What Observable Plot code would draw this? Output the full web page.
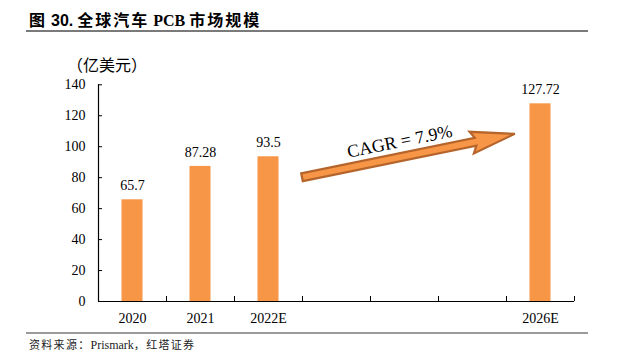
<!DOCTYPE html>
<html><head><meta charset="utf-8">
<script src="https://cdn.jsdelivr.net/npm/d3@7"></script>
<script src="https://cdn.jsdelivr.net/npm/@observablehq/plot@0.6"></script>
<style>
body{margin:0;background:#fff;width:618px;height:361px;overflow:hidden;}
#title{position:relative;height:34px;}
#title .txt{position:absolute;left:29px;top:10px;font-size:16px;font-weight:bold;line-height:18px;white-space:nowrap;color:#000}
#title .cjk{font-family:"Noto Sans CJK SC";letter-spacing:2px}
#title .num{font-family:"Liberation Sans"}
#title .ser{font-family:"Liberation Serif"}
#title .line{position:absolute;left:26px;width:562px;top:30px;height:2px;background:#7a7a7a}
#chart{height:298px}
#chart svg{display:block}
#cap{position:relative;height:29px}
#cap .line{position:absolute;left:26px;width:562px;top:0;height:2px;background:#9a9a9a}
#cap .txt{position:absolute;left:29px;top:5px;font-size:11px;line-height:14px;white-space:nowrap;color:#222}
#cap .cjk{font-family:"Noto Sans CJK SC";letter-spacing:1.3px}
#cap .ser{font-family:"Liberation Serif";font-size:12px}
</style>
</head>
<body>
<div id="title"><div class="txt"><span class="cjk">图</span> <span class="num">30.</span> <span class="cjk">全球汽车</span> <span class="ser">PCB</span> <span class="cjk">市场规模</span></div><div class="line"></div></div>
<div id="chart"></div>
<div id="cap"><div class="line"></div><div class="txt"><span class="cjk">资料来源：</span><span class="ser">Prismark</span><span class="cjk">，红塔证券</span></div></div>
<script>
// ---- data ----
const categories = ["2020", "2021", "2022E", "", "", "", "2026E"];
const values = [65.7, 87.28, 93.5, null, null, null, 127.72];
const valueLabels = ["65.7", "87.28", "93.5", "", "", "", "127.72"];
const yTicks = [0, 20, 40, 60, 80, 100, 120, 140];
const unitLabel = "（亿美元）";
const cagrLabel = "CAGR = 7.9%";
// arrow annotation, in data units (category index, value)
const arrowFrom = {x: 3.0, y: 80};
const arrowTo = {x: 6.13, y: 108};
const cagrAt = {x: 4.43, y: 103.4};

const bars = categories.map((c, i) => ({i, c, v: values[i], label: valueLabels[i]})).filter(d => d.v != null);
const serif = "Liberation Serif";
const orange = "#F79646";

function arrowMark(index, scales) {
  const x0 = scales.x(arrowFrom.x), y0 = scales.y(arrowFrom.y);
  const x1 = scales.x(arrowTo.x), y1 = scales.y(arrowTo.y);
  const dx = x1 - x0, dy = y1 - y0, len = Math.hypot(dx, dy);
  const ux = dx / len, uy = dy / len, nx = -uy, ny = ux;
  const sw = 4, hw = 11, hl = 40;
  const pts = [[0, -sw], [len - hl, -sw], [len - hl - 4, -hw], [len, 0], [len - hl - 4, hw], [len - hl, sw], [0, sw]]
    .map(([a, b]) => [x0 + ux * a + nx * b, y0 + uy * a + ny * b].map(v => v.toFixed(1)).join(","));
  return d3.create("svg:polygon")
    .attr("points", pts.join(" "))
    .attr("fill", orange)
    .attr("stroke", "#B5652C")
    .attr("stroke-width", 2.2)
    .attr("stroke-linejoin", "miter")
    .node();
}

const chart = Plot.plot({
  width: 618,
  height: 298,
  marginLeft: 98,
  marginRight: 44,
  marginTop: 50.3,
  marginBottom: 31,
  style: {fontFamily: serif, color: "#000", background: "#fff"},
  x: {domain: [0, categories.length]},
  y: {domain: [0, 140]},
  marks: [
    Plot.rectY(bars, {x1: d => d.i, x2: d => d.i + 1, y1: 0, y2: d => d.v, fill: orange, insetLeft: 23.5, insetRight: 23.5}),
    Plot.text(bars, {x: d => d.i + 0.5, y: d => d.v, text: d => d.label, dy: -14, fontSize: 14, fontFamily: serif, fill: "#000"}),
    Plot.ruleY([0], {stroke: "#000", strokeWidth: 1.2}),
    Plot.ruleX([0], {stroke: "#000", strokeWidth: 1.2}),
    Plot.axisY({ticks: yTicks, tickSize: -4, tickPadding: 17, fontSize: 14, fontFamily: serif, label: null, stroke: "#000"}),
    Plot.axisX({ticks: d3.range(1, categories.length + 1), tickSize: -5, tickFormat: () => "", label: null, stroke: "#000"}),
    Plot.axisX({ticks: categories.map((c, i) => i + 0.5), tickSize: 0, tickPadding: 12, tickFormat: d => categories[Math.floor(d)], fontSize: 14, fontFamily: serif, label: null}),
    arrowMark,
    Plot.text([cagrLabel], {x: cagrAt.x, y: cagrAt.y, rotate: -11.4, fontSize: 18, fontFamily: serif, fill: "#000"}),
    Plot.text([unitLabel], {frameAnchor: "top-left", textAnchor: "middle", lineAnchor: "middle", dx: 8.5, dy: -18.6, fontSize: 16, fontFamily: "Noto Sans CJK SC", fill: "#000"})
  ]
});
document.getElementById("chart").appendChild(chart);
</script>
</body></html>
